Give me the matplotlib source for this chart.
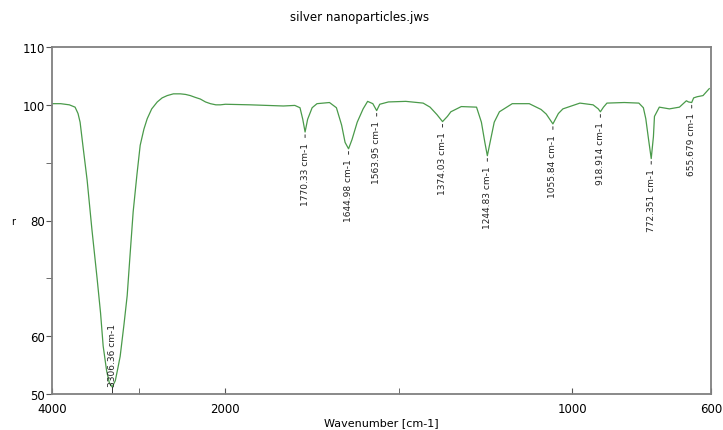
import numpy as np
import matplotlib
matplotlib.use("Agg")
import matplotlib.pyplot as plt

# ============================================================
# DATA
# ============================================================

wavenumber = [3995, 3900, 3800, 3734, 3700, 3676, 3640, 3595, 3540, 3480,
              3440, 3410, 3370, 3340, 3306, 3270, 3240, 3214, 3170, 3133,
              3100, 3064, 3020, 2983, 2940, 2902, 2850, 2786, 2730, 2671,
              2600, 2520, 2460, 2405, 2350, 2289, 2230, 2173, 2110, 2058,
              2000, 1928, 1833, 1800, 1785, 1777, 1770.33, 1763, 1750, 1736,
              1700, 1680, 1665, 1655, 1644.98, 1635, 1620, 1603, 1590, 1575,
              1563.95, 1555, 1530, 1480, 1430, 1410, 1390, 1374.03, 1360, 1350,
              1320, 1276, 1262, 1252, 1244.83, 1237, 1225, 1210, 1173, 1124,
              1090, 1075, 1055.84, 1040, 1027, 978, 940, 925, 918.914, 910,
              900, 850, 808, 795, 788, 780, 772.351, 766, 763, 749,
              720, 691, 671, 665, 655.679, 650, 640, 623, 605]

transmittance = [100.2, 100.2, 100.0, 99.6, 98.5, 97.0, 92.5, 87.0, 78.5, 70.0,
                 64.0, 58.3, 54.0, 52.0, 51.2, 52.3, 54.5, 56.5, 62.0, 67.0,
                 74.0, 81.5, 88.0, 93.0, 95.8, 97.6, 99.3, 100.5, 101.2, 101.6,
                 101.9, 101.9, 101.8, 101.6, 101.3, 101.0, 100.5, 100.2, 100.0, 100.0,
                 100.1, 100.0, 99.8, 99.9, 99.5, 97.5, 95.3, 97.5, 99.5, 100.2,
                 100.4, 99.5, 96.5, 93.5, 92.4, 94.0, 97.0, 99.3, 100.6, 100.2,
                 99.0, 100.1, 100.5, 100.6, 100.3, 99.6, 98.3, 97.1, 98.0, 98.8,
                 99.7, 99.6, 97.0, 93.5, 91.2, 93.5, 97.0, 98.8, 100.2, 100.2,
                 99.2, 98.4, 96.7, 98.5, 99.3, 100.3, 100.0, 99.3, 98.8, 99.6,
                 100.3, 100.4, 100.3, 99.5, 97.6, 94.0, 90.7, 94.5, 98.0, 99.6,
                 99.3, 99.6, 100.7, 100.5, 100.4, 101.2, 101.4, 101.6, 102.8]

peak_wn = [3306.36, 1770.33, 1644.98, 1563.95, 1374.03, 1244.83,
           1055.84, 918.914, 772.351, 655.679]
peak_t = [51.2, 95.3, 92.4, 99.0, 97.1, 91.2, 96.7, 98.8, 90.7, 100.4]
peak_labels = ["3306.36 cm-1", "1770.33 cm-1", "1644.98 cm-1", "1563.95 cm-1",
               "1374.03 cm-1", "1244.83 cm-1", "1055.84 cm-1", "918.914 cm-1",
               "772.351 cm-1", "655.679 cm-1"]

x_major = [4000, 2000, 1000, 600]
x_minor = [3000, 1500]
y_major = [50, 60, 80, 100, 110]
y_minor = [70, 90]

# ============================================================
# SPLIT WAVENUMBER SCALE (x4 expansion below 2000 cm-1)
# ============================================================

def forward(v):
    v = np.asarray(v, dtype=float)
    return np.where(v >= 2000, v, 2000 - (2000 - v) * 4)

def inverse(u):
    u = np.asarray(u, dtype=float)
    return np.where(u >= 2000, u, 2000 - (2000 - u) / 4)

# ============================================================
# PLOT
# ============================================================

plt.rcParams['font.family'] = ['DejaVu Sans']

fig = plt.figure(figsize=(7.23, 4.31), dpi=100)
ax = fig.add_axes([52 / 723, 1 - 395 / 431, (711 - 52) / 723, (395 - 48) / 431])

ax.set_xscale('function', functions=(forward, inverse))
ax.plot(wavenumber, transmittance, color='#4a9a4a', linewidth=0.9)

ax.set_xlim(4000, 600)
ax.set_ylim(50, 110)

# peak markers and labels
for wn, t, lab in zip(peak_wn, peak_t, peak_labels):
    if t < 55:
        ax.plot([wn, wn], [50, t], color='#333333', linewidth=0.7)
        ax.annotate(lab, xy=(wn, t), xytext=(0, 1), textcoords='offset points',
                    rotation=90, ha='center', va='bottom', fontsize=6.5,
                    color='#222222')
    else:
        ax.annotate('', xy=(wn, t), xytext=(0, -6), textcoords='offset points',
                    arrowprops=dict(arrowstyle='-', color='#333333', lw=0.7))
        ax.annotate(lab, xy=(wn, t), xytext=(0, -7), textcoords='offset points',
                    rotation=90, ha='center', va='top', fontsize=6.5,
                    color='#222222')

# ticks
ax.set_xticks(x_major)
ax.set_xticklabels([str(v) for v in x_major])
ax.set_xticks(x_minor, minor=True)
ax.set_yticks(y_major)
ax.set_yticklabels([str(v) for v in y_major])
ax.set_yticks(y_minor, minor=True)

ax.tick_params(axis='x', which='both', direction='in', length=4,
               labelsize=8.5, pad=6, color='#555555')
ax.tick_params(axis='y', which='both', direction='out', length=4,
               labelsize=8.5, pad=1, color='#555555')

for s in ax.spines.values():
    s.set_color('#808080')
    s.set_linewidth(1.3)

ax.set_xlabel('Wavenumber [cm-1]', fontsize=8, labelpad=1)
fig.text(13 / 723, 1 - 222 / 431, 'r', fontsize=7, ha='center', va='center')
fig.text(360 / 723, 1 - 18 / 431, 'silver nanoparticles.jws', fontsize=8.5,
         ha='center', va='center')

plt.savefig('out.png', dpi=100)
